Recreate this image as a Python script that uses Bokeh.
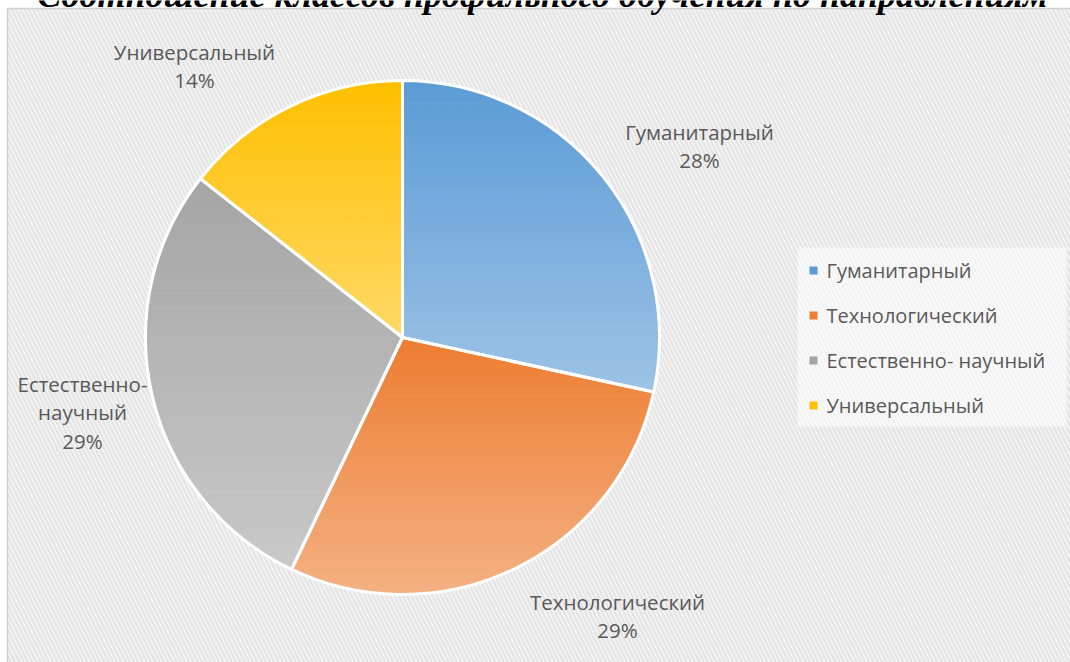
import numpy as np
from bokeh.plotting import figure
from bokeh.models import Range1d
from bokeh.core.properties import value
from bokeh.embed import file_html
from bokeh.resources import INLINE

# ---- data ----
title = "Соотношение классов профильного обучения по направлениям"
categories = ["Гуманитарный", "Технологический", "Естественно- научный", "Универсальный"]
label_names = [["Гуманитарный"], ["Технологический"], ["Естественно-", "научный"], ["Универсальный"]]
shares = [28.4, 28.7, 28.5, 14.4]
percent_labels = ["28%", "29%", "29%", "14%"]
top_colors = ["#5B9BD5", "#ED7D31", "#A5A5A5", "#FFC000"]
bottom_colors = ["#9DC3E6", "#F4B183", "#C9C9C9", "#FFD966"]

# ---- layout (pixel space, y measured from top) ----
W, H = 1070, 662
CX, CY, R = 402, 337, 257
label_pos = [(699, 131), (617, 601), (82, 383), (194, 51)]  # first line centre
LINE_H = 28.5
FONT = "Open Sans"
TXT = "#595959"


def Y(py):
    return H - py


p = figure(width=W, height=H, x_range=Range1d(0, W), y_range=Range1d(0, H),
           min_border=0, toolbar_location=None, output_backend="svg",
           x_axis_type=None, y_axis_type=None)
p.grid.visible = False
p.outline_line_color = None
p.background_fill_color = "white"
p.border_fill_color = "white"

# chart area with diagonal hatch
p.quad(left=7, right=W + 20, top=Y(8), bottom=-20, fill_color="white",
       line_color="#D0D0D0", line_width=1.5,
       hatch_pattern="\\", hatch_color="#E4E4E4", hatch_weight=2.8, hatch_scale=8.5)

# title (partly cut at top of canvas, as in the original)
p.text(x=[542], y=[Y(-6)], text=[title], text_font=value("Liberation Serif"),
       text_font_style="bold italic", text_font_size="36px", text_align="center",
       text_baseline="alphabetic", text_color="black")


def clip(poly, y0, keep_above):
    out = []
    n = len(poly)
    for i in range(n):
        a = poly[i]
        b = poly[(i + 1) % n]
        ina = a[1] >= y0 if keep_above else a[1] <= y0
        inb = b[1] >= y0 if keep_above else b[1] <= y0
        if ina:
            out.append(a)
        if ina != inb:
            t = (y0 - a[1]) / (b[1] - a[1])
            out.append((a[0] + t * (b[0] - a[0]), y0))
    return out


def hex2rgb(h):
    return np.array([int(h[i:i + 2], 16) for i in (1, 3, 5)], float)


def rgb2hex(c):
    return "#%02x%02x%02x" % tuple(int(round(v)) for v in c)


total = float(sum(shares))
cum = np.concatenate([[0], np.cumsum(shares)]) / total
angles = np.pi / 2 - 2 * np.pi * cum  # clockwise from 12 o'clock
cxd, cyd = CX, Y(CY)

xs_all, ys_all, cols = [], [], []
NSTRIP = 80
for k in range(len(shares)):
    a0, a1 = angles[k], angles[k + 1]
    th = np.linspace(a0, a1, 200)
    poly = [(cxd, cyd)] + [(cxd + R * np.cos(t), cyd + R * np.sin(t)) for t in th]
    ys = [q[1] for q in poly]
    ymin, ymax = min(ys), max(ys)
    ctop, cbot = hex2rgb(top_colors[k]), hex2rgb(bottom_colors[k])
    edges = np.linspace(ymin, ymax, NSTRIP + 1)
    for j in range(NSTRIP):
        sub = clip(clip(poly, edges[j], True), edges[j + 1], False)
        if len(sub) < 3:
            continue
        f = ((edges[j] + edges[j + 1]) / 2 - ymin) / (ymax - ymin)  # 0 bottom,1 top
        c = cbot + (ctop - cbot) * f
        xs_all.append([q[0] for q in sub])
        ys_all.append([q[1] for q in sub])
        cols.append(rgb2hex(c))

p.patches(xs=xs_all, ys=ys_all, fill_color=cols, line_color=cols, line_width=1)

# white separators
p.wedge(x=[cxd] * len(shares), y=[cyd] * len(shares), radius=R,
        start_angle=list(angles[:-1]), end_angle=list(angles[1:]), direction="clock",
        fill_color=None, line_color="white", line_width=3)

# data labels
for k in range(len(shares)):
    lx, ly = label_pos[k]
    lines = label_names[k] + [percent_labels[k]]
    for i, t in enumerate(lines):
        p.text(x=[lx], y=[Y(ly + i * LINE_H)], text=[t], text_font=value(FONT),
               text_font_size="20.5px", text_align="center", text_baseline="middle",
               text_color=TXT)

# legend
p.quad(left=797, right=1066, top=Y(247), bottom=Y(426), fill_color="white",
       fill_alpha=0.55, line_color=None)
leg_y = [Y(270 + 45 * i) for i in range(len(categories))]
p.scatter(x=[813] * len(categories), y=leg_y, marker="square", size=8,
          fill_color=top_colors, line_color=None)
p.text(x=[826] * len(categories), y=leg_y, text=categories, text_font=value(FONT),
       text_font_size="20px", text_align="left", text_baseline="middle", text_color=TXT)

open("out.html", "w").write(file_html(p, INLINE))
